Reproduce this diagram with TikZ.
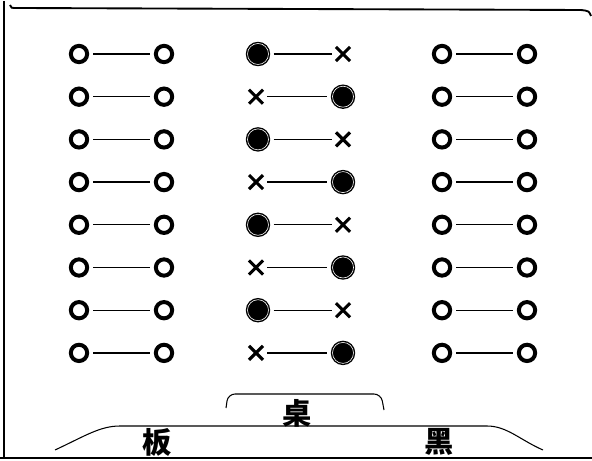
\documentclass[tikz,border=0pt]{standalone}
\usepackage{fontspec}
\usepackage{tikz}
\usetikzlibrary{shapes.misc}
\newfontfamily\cjk{Noto Sans CJK SC}
\tikzset{
  emptyseat/.style={
    circle,
    draw=black,
    line width=3.4pt,
    minimum size=0.49cm,
    inner sep=0pt
  },
  filledseat/.style={
    circle,
    draw=black,
    fill=black,
    line width=1.2pt,
    double=white,
    double distance=0.5pt,
    minimum size=0.63cm,
    inner sep=0pt
  },
  crossmark/.style={
    cross out,
    draw=black,
    line width=2.6pt,
    minimum size=0.33cm,
    inner sep=0pt
  },
  pairline/.style={
    line width=1.1pt,
    shorten <=0.13cm,
    shorten >=0.13cm
  },
  framerule/.style={
    line width=1.6pt
  },
  boardrule/.style={
    line width=0.9pt
  },
  boardchar/.style={
    font=\fontsize{25pt}{25pt}\selectfont\cjk\bfseries,
    inner sep=0pt
  }
}
\begin{document}
\begin{tikzpicture}[x=0.03cm, y=-0.03cm]
    \useasboundingbox (0,0) rectangle (592,461);

    % outer frame
    \draw[framerule] (4,1) -- (4,458);
    \draw[framerule] (10,5) .. controls (11,8) .. (17,8) -- (581,10)
        .. controls (589,11) .. (591,16);
    \draw[framerule] (0,458) -- (592,458);

    % eight rows of seats
    \foreach \r in {1,...,8} {
        \pgfmathsetmacro\rowy{54+42.7*(\r-1)}
        \node[emptyseat] (la\r) at (79,\rowy) {};
        \node[emptyseat] (lb\r) at (164,\rowy) {};
        \ifodd\r\relax
            \node[filledseat] (ma\r) at (258,\rowy) {};
            \node[crossmark] (mb\r) at (343,\rowy) {};
        \else
            \node[crossmark] (ma\r) at (256,\rowy) {};
            \node[filledseat] (mb\r) at (343,\rowy) {};
        \fi
        \node[emptyseat] (ra\r) at (442,\rowy) {};
        \node[emptyseat] (rb\r) at (527,\rowy) {};

        \draw[pairline] (la\r) -- (lb\r);
        \draw[pairline] (ma\r) -- (mb\r);
        \draw[pairline] (ra\r) -- (rb\r);
    }

    % desk and blackboard
    \draw[boardrule, rounded corners=6pt] (226,408) -- (228,394) -- (381,394) -- (384,410);
    \node[boardchar] (desk) at (297,413) {桌};

    \draw[boardrule] (55,450) .. controls (85,436) and (100,426) .. (120,426)
        -- (487,426) .. controls (507,426) and (520,440) .. (543,450);
    \node[boardchar] (boardleft) at (157,442) {板};
    \node[boardchar] (boardright) at (439,442) {黑};
\end{tikzpicture}
\end{document}
